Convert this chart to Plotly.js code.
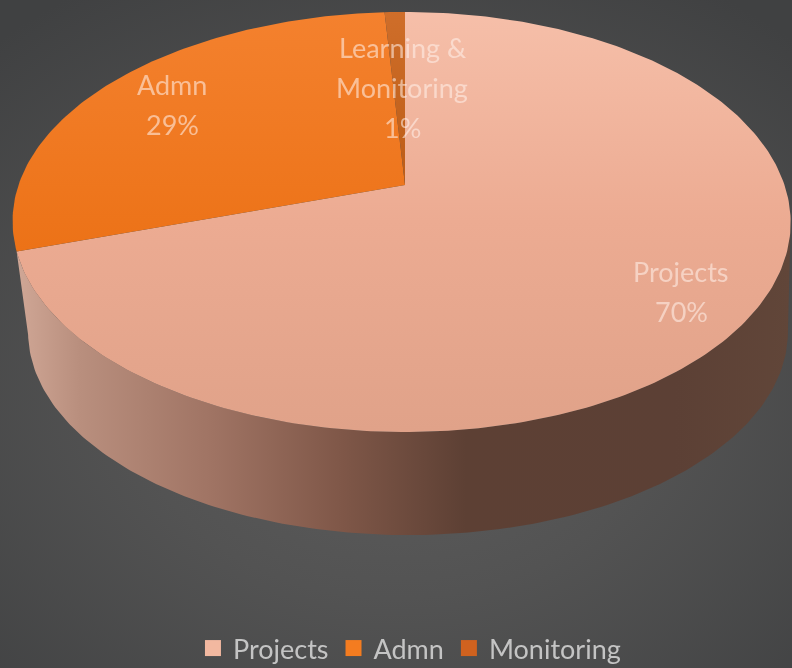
<!DOCTYPE html>
<html>
<head>
<meta charset="utf-8">
<script src="https://cdn.plot.ly/plotly-3.0.1.min.js"></script>
<style>
html,body{margin:0;padding:0;width:792px;height:668px;overflow:hidden;
background:radial-gradient(ellipse 75% 70% at 50% 58%, #5e5e5e 0%, #535353 45%, #404142 100%);}
#chart{width:792px;height:680px;filter:blur(0.6px);}
</style>
</head>
<body>
<div id="chart"></div>
<script>
// --- data ---
const categories = ["Projects", "Admn", "Monitoring"];
const shares = [70, 29, 1];
const sliceLabels = ["Projects<br>70%", "Admn<br>29%", "Learning &<br>Monitoring<br>1%"];
const sliceColors = ["#f0b39b", "#f27a22", "#c8641e"];
const legendColors = ["#f2b8a0", "#f47c20", "#d0621f"];

// --- projection of the tilted disc into the chart's axis units ---
const disc = {cx: 401.5, lean: 3.5, cy: 185, A: 383, B: 203.5, k: 0.176};
const base = {cx: 408, lean: 0, cy: 296, A: 374, B: 197, k: 0.176};
const deg = Math.PI / 180;
function project(p, t) {
  const u = Math.sin(t), v = Math.cos(t), w = 1 + p.k * v;
  return [p.cx + p.lean * (1 - u * u) + p.A * u / w, p.cy - p.B * v / w];
}
function arc(p, t0, t1) {
  const n = Math.max(2, Math.ceil(Math.abs(t1 - t0) * 60)), out = [];
  for (let i = 0; i <= n; i++) out.push(project(p, t0 + (t1 - t0) * i / n));
  return out;
}
const total = shares.reduce((a, b) => a + b, 0);
let cumulative = 0;
const bounds = shares.map(s => {
  const b = [cumulative / total * 2 * Math.PI, (cumulative + s) / total * 2 * Math.PI];
  cumulative += s;
  return b;
});
const apex = [disc.cx + disc.lean, disc.cy];

// side wall: front of the rim, straight down to the lower disc and back
const wallPts = arc(disc, 100 * deg, bounds[0][1]).concat(arc(base, 260 * deg, 100 * deg));
const traces = [{
  type: "scatter", mode: "lines", showlegend: false, hoverinfo: "skip",
  x: wallPts.map(p => p[0]), y: wallPts.map(p => p[1]),
  line: {width: 0}, fill: "toself", fillcolor: "#7a5648",
  fillgradient: {type: "horizontal", colorscale: [
    [0, "#d0a796"], [0.08, "#b98f7e"], [0.25, "#a07464"], [0.42, "#7f5748"],
    [0.58, "#5d4034"], [0.85, "#5c4035"], [1, "#614639"]]}
}];

const faceGradients = [
  [[0, "#e0a289"], [0.5, "#ecab92"], [1, "#f6bfa9"]],
  [[0, "#ec7217"], [1, "#f4812e"]],
  [[0, "#bc5c16"], [1, "#cf6e2a"]]
];
shares.forEach((s, i) => {
  const pts = [apex].concat(arc(disc, bounds[i][0], bounds[i][1]), [apex]);
  traces.push({
    type: "scatter", mode: "lines", showlegend: false, hoverinfo: "skip",
    x: pts.map(p => p[0]), y: pts.map(p => p[1]),
    line: {width: 0}, fill: "toself", fillcolor: sliceColors[i],
    fillgradient: {type: "vertical", colorscale: faceGradients[i]}
  });
});
// legend entries
categories.forEach((c, i) => traces.push({
  type: "scatter", mode: "markers", name: c, x: [null], y: [null], hoverinfo: "skip",
  marker: {symbol: "square", size: 16, color: legendColors[i]}
}));

const labelAnchors = [[681, 271], [172, 84], [402, 47]];
const lineStep = 40;
const annotations = [];
sliceLabels.forEach((t, i) => t.split("<br>").forEach((line, j) => annotations.push({
  text: line, x: labelAnchors[i][0], y: labelAnchors[i][1] + j * lineStep, xref: "x", yref: "y",
  showarrow: false, align: "center",
  font: {family: "Lato, sans-serif", size: 27, color: "rgba(255,240,232,0.58)"}
})));

Plotly.newPlot("chart", traces, {
  width: 792, height: 680,
  margin: {l: 0, r: 0, t: 0, b: 12},
  paper_bgcolor: "rgba(0,0,0,0)", plot_bgcolor: "rgba(0,0,0,0)",
  xaxis: {range: [0, 792], visible: false, fixedrange: true},
  yaxis: {range: [668, 0], visible: false, fixedrange: true},
  annotations: annotations,
  showlegend: true,
  legend: {orientation: "h", x: 0.517, xanchor: "center", y: -0.0075, yanchor: "bottom",
    font: {family: "Lato, sans-serif", size: 27, color: "#c4c4c4"},
    bgcolor: "rgba(0,0,0,0)", itemwidth: 30, itemclick: false, itemdoubleclick: false}
}, {displayModeBar: false, staticPlot: true});
</script>
</body>
</html>
